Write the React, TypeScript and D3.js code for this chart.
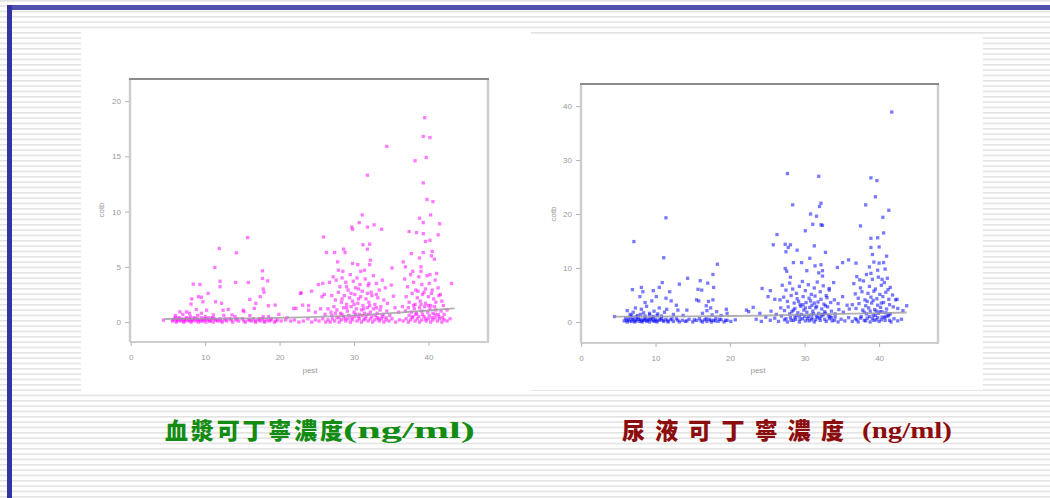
import { useEffect, useRef } from 'react'
import * as d3 from 'd3'

const W = 1050
const H = 498

const xTicks = [0, 10, 20, 30, 40]
const bloodTicksY = [0, 5, 10, 15, 20]
const urineTicksY = [0, 10, 20, 30, 40]
const xLabel = 'pest'
const yLabel = 'cotb'

const bloodTitle = ['血漿可丁寧濃度', '(ng/ml)']
const urineTitle = ['尿液可丁寧濃度', '(ng/ml)']

// plasma cotinine vs pest
const bloodPoints: [number, number][] = [
  [15.7, 7.65], [11.9, 6.66], [14.2, 6.27], [11.3, 4.94], [17.7, 4.64], [12.0, 3.7], [14.1, 3.59], [15.8, 3.59],
  [17.7, 3.95], [18.4, 3.73], [8.4, 3.44], [9.3, 3.4], [12.0, 3.2], [10.4, 2.6], [17.8, 3.0], [17.9, 2.7],
  [9.1, 2.3], [9.5, 2.25], [8.2, 2.1], [17.4, 2.3], [16.0, 2.05], [22.8, 2.6], [11.4, 1.84], [9.7, 1.84],
  [12.2, 1.7], [8.1, 1.63], [19.4, 1.54], [18.5, 1.48], [16.8, 1.7], [21.9, 1.24], [23.1, 1.54], [23.9, 1.08],
  [8.8, 1.15], [10.2, 1.08], [12.4, 1.08], [13.1, 1.15], [15.1, 1.08], [15.2, 0.95], [16.6, 1.24], [6.6, 0.93],
  [7.5, 0.93], [7.9, 0.8], [9.5, 0.8], [11.1, 0.65], [13.6, 0.65], [17.8, 0.5], [19.9, 0.7], [21.0, 0.4], [4.4, 0.18],
  [39.5, 18.5], [39.3, 16.8], [40.2, 16.7], [39.7, 14.9], [38.2, 14.6], [34.4, 15.9], [31.8, 13.3], [39.3, 12.6],
  [39.8, 11.1], [40.6, 10.9], [31.1, 9.7], [40.3, 9.7], [38.8, 9.4], [29.7, 8.6], [29.8, 8.4], [30.7, 9.0],
  [31.8, 8.6], [32.7, 8.8], [33.7, 8.4], [41.5, 8.9], [39.3, 9.0], [41.3, 7.9], [37.4, 8.2], [38.4, 8.1],
  [39.3, 8.0], [39.6, 7.3], [40.2, 7.4], [25.9, 7.7], [31.2, 7.0], [32.1, 7.05], [31.8, 6.6], [28.6, 6.6],
  [28.8, 6.3], [26.3, 6.3], [27.4, 6.3], [37.7, 6.2], [39.3, 6.3], [40.5, 6.4], [40.8, 5.7], [40.4, 6.0],
  [32.2, 5.6], [32.1, 5.2], [27.8, 5.45], [29.8, 5.3], [30.5, 5.2], [38.8, 5.8], [39.0, 5.0], [36.6, 5.45],
  [36.9, 5.0], [35.1, 4.9], [27.9, 4.7], [28.5, 4.6], [30.9, 4.6], [31.4, 4.7], [37.9, 4.6], [41.1, 4.4],
  [43.1, 3.5], [25.8, 3.5], [26.7, 3.6], [25.2, 3.4], [22.9, 2.65], [24.3, 2.8], [22.2, 1.24], [23.9, 1.5],
  [25.7, 2.3], [26.0, 2.5], [35.0, 3.35], [35.3, 2.35], [41.8, 1.9], [42.0, 1.5],
  [27.2, 4.1], [27.6, 3.8], [28.1, 3.2], [28.4, 4.0], [28.9, 3.6], [29.2, 2.9], [29.5, 4.3], [29.9, 3.7],
  [30.2, 3.1], [30.4, 4.0], [30.8, 3.4], [31.1, 2.8], [31.5, 3.9], [31.9, 3.3], [32.3, 2.7], [32.6, 4.2],
  [33.0, 3.5], [33.4, 2.9], [33.8, 3.8], [34.2, 3.1], [27.0, 2.4], [27.5, 2.0], [27.9, 2.7], [28.3, 1.8],
  [28.7, 2.4], [29.0, 1.6], [29.4, 2.2], [29.8, 1.9], [30.1, 2.5], [30.5, 1.7], [30.9, 2.3], [31.2, 1.5],
  [31.6, 2.1], [32.0, 1.8], [32.4, 2.4], [32.8, 1.6], [33.2, 2.2], [33.6, 1.4], [34.0, 2.0], [34.5, 1.7],
  [26.5, 1.2], [26.9, 0.9], [27.3, 1.4], [27.7, 1.1], [28.2, 0.8], [28.6, 1.3], [29.1, 1.0], [29.6, 1.4],
  [30.0, 0.9], [30.3, 1.2], [30.7, 0.7], [31.0, 1.1], [31.4, 0.8], [31.8, 1.3], [32.2, 0.9], [32.6, 1.2],
  [33.1, 0.8], [33.5, 1.1], [33.9, 0.7], [34.4, 1.0], [34.8, 0.6], [35.5, 1.3], [36.0, 0.9], [24.8, 0.9],
  [25.5, 1.2], [26.1, 0.7],
  [36.8, 3.9], [37.2, 3.2], [37.6, 4.3], [38.0, 3.6], [38.3, 2.9], [38.7, 4.1], [39.1, 3.4], [39.4, 2.7],
  [39.8, 4.2], [40.1, 3.5], [40.5, 2.9], [40.9, 3.8], [41.3, 3.1], [41.6, 2.5], [37.0, 2.3], [37.4, 1.8],
  [37.8, 2.6], [38.2, 1.6], [38.5, 2.2], [38.9, 1.9], [39.2, 2.5], [39.6, 1.7], [40.0, 2.3], [40.3, 1.5],
  [40.7, 2.1], [41.0, 1.8], [41.4, 2.4], [36.5, 1.4], [36.9, 1.0], [37.3, 1.3], [37.7, 0.9], [38.1, 1.2],
  [38.4, 0.8], [38.8, 1.3], [39.1, 1.0], [39.5, 1.4], [39.9, 0.9], [40.2, 1.2], [40.6, 0.8], [41.0, 1.1],
  [41.3, 0.7], [41.7, 1.0], [42.1, 0.7], [42.5, 1.1],
  [5.6, 0.1], [5.9, 0.3], [6.1, 0], [6.3, 0.2], [6.5, 0.4], [6.7, 0.1], [6.9, 0.3], [7.1, 0], [7.3, 0.2],
  [7.5, 0.4], [7.7, 0.1], [7.9, 0.3], [8.1, 0], [8.3, 0.2], [8.5, 0.4], [8.7, 0.1], [8.9, 0.3], [9.1, 0],
  [9.3, 0.2], [9.5, 0.4], [9.7, 0.1], [9.9, 0.3], [10.1, 0], [10.3, 0.2], [10.5, 0.4], [10.7, 0.1], [10.9, 0.3],
  [11.1, 0], [11.4, 0.2], [11.7, 0.1], [12.0, 0.3], [12.3, 0], [12.6, 0.2], [12.9, 0.1], [13.3, 0.3], [13.7, 0],
  [14.1, 0.2], [14.5, 0.1], [15.0, 0.3], [15.4, 0], [15.8, 0.2], [16.2, 0.1], [16.5, 0.3], [16.8, 0], [17.1, 0.2],
  [17.4, 0.1], [17.7, 0.3], [18.0, 0], [18.3, 0.2], [18.6, 0.1], [18.9, 0.3], [19.3, 0], [19.7, 0.2], [20.2, 0.1],
  [20.8, 0.2], [6.0, 0.6], [7.0, 0.7], [8.0, 0.5], [9.0, 0.6], [10.0, 0.5], [11.0, 0.4], [12.5, 0.6], [14.0, 0.5],
  [16.0, 0.6], [18.5, 0.5],
  [21.5, 0.1], [22.0, 0.2], [22.6, 0], [23.2, 0.1], [23.8, 0.3], [24.3, 0], [24.8, 0.2], [25.3, 0.1], [25.8, 0.3],
  [26.2, 0], [26.5, 0.2], [26.8, 0], [27.1, 0.3], [27.4, 0.1], [27.7, 0.4], [28.0, 0], [28.3, 0.2], [28.6, 0.5],
  [28.9, 0.1], [29.2, 0.3], [29.5, 0], [29.8, 0.2], [30.1, 0.5], [30.4, 0.1], [30.7, 0.3], [31.0, 0], [31.3, 0.2],
  [31.6, 0.5], [31.9, 0.1], [32.2, 0.3], [32.5, 0], [32.8, 0.2], [33.1, 0.4], [33.4, 0.1], [33.7, 0.3], [34.0, 0],
  [34.3, 0.2], [34.7, 0.1], [35.1, 0.3], [35.6, 0], [36.1, 0.2], [36.6, 0.1],
  [37.0, 0.3], [37.3, 0], [37.6, 0.2], [37.9, 0.5], [38.2, 0.1], [38.5, 0.3], [38.8, 0], [39.1, 0.2], [39.4, 0.5],
  [39.7, 0.1], [40.0, 0.3], [40.3, 0], [40.6, 0.2], [40.9, 0.4], [41.2, 0.1], [41.5, 0.3], [41.8, 0], [42.1, 0.2],
  [42.5, 0.1], [42.9, 0.3],
  [5.7, 0.2], [6.0, 0.4], [6.2, 0.1], [6.4, 0.3], [6.8, 0.2], [7.2, 0.1], [7.4, 0.3], [7.8, 0.2], [8.2, 0.1],
  [8.6, 0.3], [9.0, 0.2], [9.4, 0.1], [9.8, 0.2], [10.2, 0.3], [10.6, 0.1], [11.2, 0.3], [11.6, 0.2], [12.1, 0.1],
  [12.8, 0.3], [13.5, 0.2], [14.3, 0.3], [15.2, 0.1], [16.0, 0.2], [16.7, 0.1], [17.3, 0.3], [17.9, 0.1], [18.8, 0.2],
  [19.5, 0.1],
  [27.0, 0.6], [27.5, 0.8], [28.0, 0.4], [28.4, 0.7], [28.8, 0.3], [29.3, 0.6], [29.7, 0.4], [30.2, 0.7], [30.6, 0.5],
  [31.1, 0.6], [31.5, 0.3], [31.9, 0.7], [32.4, 0.5], [32.9, 0.6], [33.3, 0.3], [33.8, 0.5], [34.3, 0.4], [29.0, 1.3],
  [30.0, 1.6], [31.3, 1.2], [32.1, 1.5], [33.0, 1.3], [28.4, 2.1], [29.6, 2.6], [30.6, 2.1], [31.8, 2.6], [33.0, 2.5],
  [29.0, 3.2], [30.6, 3.0], [32.0, 3.5],
  [37.4, 0.6], [37.8, 0.4], [38.3, 0.7], [38.7, 0.5], [39.2, 0.7], [39.6, 0.3], [40.1, 0.6], [40.5, 0.4], [40.9, 0.7],
  [41.4, 0.5], [41.9, 0.4], [38.0, 1.5], [39.0, 1.6], [40.0, 1.5], [40.8, 1.4], [38.6, 2.8], [39.6, 3.0], [40.4, 2.6],
  [39.0, 4.6], [40.2, 4.3],
]

const bloodTrend: [number, number][] = [
  [4.5, 0.28], [8, 0.3], [12, 0.32], [16, 0.34], [20, 0.38], [24, 0.45], [28, 0.55], [32, 0.68], [36, 0.85],
  [40, 1.05], [43.5, 1.25],
]

// urine cotinine vs pest
const urinePoints: [number, number][] = [
  [7.1, 14.9], [11.1, 11.9], [11.4, 19.3], [18.3, 10.7], [17.7, 8.8], [14.3, 8.1], [13.2, 7.0], [16.0, 7.65],
  [17.0, 7.2], [17.8, 6.4], [10.9, 7.3], [10.5, 6.4], [6.9, 6.0], [8.1, 6.4], [9.7, 5.8], [10.1, 4.7],
  [11.9, 5.6], [15.7, 6.05], [16.2, 5.9], [8.3, 5.6], [7.9, 4.7], [8.6, 3.6], [9.5, 3.9], [11.4, 4.4],
  [12.1, 3.9], [12.8, 3.1], [15.5, 4.1], [15.8, 3.9], [17.1, 3.8], [17.7, 4.1], [16.8, 3.0], [17.4, 2.6],
  [19.5, 2.35], [8.1, 2.35], [10.5, 2.6], [11.5, 2.35], [14.2, 2.2], [7.0, 1.8], [4.5, 1.0], [22.5, 1.9],
  [6.2, 2.1], [6.6, 1.4], [7.3, 2.6], [7.6, 1.2], [8.4, 1.7], [8.8, 2.9], [9.2, 1.3], [9.8, 2.0], [10.3, 1.5],
  [10.8, 1.1], [11.2, 1.8], [12.4, 1.4], [13.0, 2.2], [13.7, 1.2], [16.3, 1.6], [16.9, 2.1], [17.6, 1.3],
  [18.2, 1.9], [18.8, 1.2], [19.6, 1.6],
  [5.8, 0.2], [6.0, 0.7], [6.2, 0], [6.4, 0.5], [6.6, 0.9], [6.8, 0.1], [7.0, 0.6], [7.2, 0], [7.4, 0.4],
  [7.6, 0.8], [7.8, 0.1], [8.0, 0.5], [8.2, 0], [8.4, 0.3], [8.6, 0.7], [8.8, 0.1], [9.0, 0.5], [9.2, 0],
  [9.4, 0.4], [9.6, 0.8], [9.8, 0.1], [10.0, 0.5], [10.2, 0], [10.5, 0.3], [10.8, 0.7], [11.1, 0.1], [11.4, 0.5],
  [11.7, 0], [12.0, 0.4], [12.4, 0.1], [12.8, 0.6], [13.2, 0], [13.6, 0.3], [14.0, 0.1], [14.5, 0.5], [15.0, 0],
  [15.5, 0.3], [15.9, 0.6], [16.3, 0], [16.6, 0.4], [16.9, 0.1], [17.2, 0.5], [17.5, 0], [17.8, 0.3], [18.1, 0.7],
  [18.4, 0.1], [18.8, 0.4], [19.2, 0], [19.6, 0.3], [20.1, 0.1], [20.7, 0.4],
  [41.7, 38.9], [27.7, 27.5], [31.9, 27.0], [38.9, 26.7], [39.7, 26.2], [39.5, 23.2], [28.4, 21.7], [32.2, 22.0],
  [32.0, 21.4], [38.2, 21.7], [41.3, 20.7], [30.8, 20.0], [31.6, 19.6], [40.5, 19.4], [31.1, 18.1], [32.2, 18.0],
  [32.4, 17.9], [37.5, 17.8], [30.1, 16.9], [40.6, 16.5], [26.3, 16.2], [38.9, 15.5], [39.8, 15.6], [25.8, 14.3],
  [27.4, 14.4], [28.1, 14.3], [27.8, 13.8], [31.3, 14.1], [38.9, 13.8], [40.0, 13.9], [27.5, 13.0], [29.0, 13.3],
  [32.8, 12.9], [39.1, 12.5], [41.0, 12.2], [30.7, 11.8], [28.5, 11.0], [29.6, 11.0], [31.4, 10.4], [32.2, 10.6],
  [35.9, 11.5], [36.9, 10.9], [35.1, 11.0], [34.4, 10.1], [39.3, 11.1], [40.0, 10.9], [40.6, 11.0], [38.7, 10.2],
  [27.4, 9.9], [27.6, 9.4], [28.1, 8.3], [30.3, 9.5], [31.9, 9.1], [32.4, 9.5], [32.4, 8.5], [39.8, 9.6],
  [40.8, 9.8], [38.9, 9.0], [40.4, 7.9], [37.4, 7.8], [24.3, 6.2], [25.4, 5.8], [25.1, 4.7], [26.0, 4.2],
  [35.1, 4.7], [33.9, 7.3], [33.3, 5.9], [41.2, 6.0], [42.4, 4.2], [42.2, 4.1], [43.2, 2.1], [43.7, 3.0],
  [35.7, 3.1], [23.1, 2.7], [22.2, 2.2], [24.0, 1.6], [26.7, 4.1],
  [27.0, 6.8], [27.5, 5.9], [28.0, 7.2], [28.4, 6.1], [28.9, 5.3], [29.3, 6.6], [29.7, 7.5], [30.1, 5.8],
  [30.5, 6.9], [30.9, 5.1], [31.3, 6.3], [31.7, 7.4], [32.1, 5.6], [32.5, 6.7], [32.9, 4.9], [33.3, 6.2],
  [27.2, 4.6], [27.7, 3.8], [28.2, 4.9], [28.6, 3.5], [29.0, 4.3], [29.4, 3.2], [29.8, 4.7], [30.2, 3.6],
  [30.6, 4.4], [31.0, 3.1], [31.4, 4.8], [31.8, 3.7], [32.2, 4.2], [32.6, 3.3], [33.0, 4.5], [33.5, 3.6],
  [34.0, 4.1], [34.5, 3.4], [26.8, 2.6], [27.3, 2.1], [27.8, 2.8], [28.3, 1.9], [28.7, 2.5], [29.1, 1.7],
  [29.5, 2.9], [29.9, 2.2], [30.3, 1.8], [30.7, 2.7], [31.1, 2.0], [31.5, 2.6], [31.9, 1.6], [32.3, 2.4],
  [32.7, 1.9], [33.1, 2.8], [33.6, 2.0], [34.1, 1.5], [34.6, 2.3], [35.2, 1.8], [36.0, 2.4], [25.5, 2.0], [26.2, 1.4],
  [36.6, 7.1], [37.0, 8.4], [37.5, 6.3], [37.9, 7.6], [38.3, 8.8], [38.7, 6.6], [39.1, 7.9], [39.5, 6.1],
  [39.9, 8.3], [40.3, 6.8], [40.7, 7.3], [41.1, 8.1], [41.5, 6.4], [36.8, 5.2], [37.2, 4.4], [37.7, 5.6],
  [38.1, 4.1], [38.5, 5.3], [38.9, 4.6], [39.3, 5.7], [39.7, 4.3], [40.1, 5.1], [40.5, 4.7], [40.9, 5.5],
  [41.3, 4.2], [41.8, 5.0], [36.4, 3.2], [36.9, 2.5], [37.3, 3.4], [37.8, 2.2], [38.2, 3.0], [38.6, 2.6],
  [39.0, 3.5], [39.4, 2.3], [39.8, 3.1], [40.2, 2.7], [40.6, 3.6], [41.0, 2.4], [41.4, 3.2], [41.9, 2.8], [42.5, 2.5],
  [23.5, 0.5], [24.2, 0.1], [24.8, 0.9], [25.4, 0.3], [26.0, 0.7], [26.5, 0.1], [26.9, 1.1], [27.3, 0.4],
  [27.7, 0], [28.1, 0.8], [28.5, 0.3], [28.9, 1.2], [29.3, 0], [29.7, 0.6], [30.1, 0.2], [30.5, 1.0], [30.9, 0.4],
  [31.3, 0], [31.7, 0.9], [32.1, 0.3], [32.5, 1.3], [32.9, 0.1], [33.3, 0.6], [33.7, 0.2], [34.1, 0.9], [34.5, 0],
  [34.9, 0.5], [35.4, 0.2], [35.9, 0.8], [36.4, 0.1], [36.8, 0.6], [37.2, 0], [37.6, 1.0], [38.0, 0.3], [38.4, 0.7],
  [38.8, 0], [39.2, 1.2], [39.6, 0.4], [40.0, 0.1], [40.4, 0.9], [40.8, 0.3], [41.2, 1.1], [41.6, 0], [42.0, 0.6],
  [42.5, 0.2], [43.0, 0.5],
  [28.0, 1.5], [28.8, 0.5], [29.6, 1.4], [30.4, 0.6], [31.2, 1.5], [32.0, 0.7], [32.8, 1.6], [33.6, 0.8],
  [38.3, 1.5], [39.1, 0.6], [39.9, 1.6], [40.7, 0.8], [41.5, 1.5], [29.2, 3.8], [30.8, 3.9], [31.6, 2.9],
  [39.6, 2.0], [40.4, 1.9],
  [6.1, 0.3], [6.5, 0.2], [6.9, 0.4], [7.3, 0.2], [7.7, 0.5], [8.1, 0.2], [8.5, 0.4], [8.9, 0.3], [9.3, 0.6],
  [9.7, 0.3], [10.1, 0.2], [10.6, 0.5], [11.0, 0.3], [11.6, 0.2], [12.2, 0.6], [13.0, 0.3], [14.2, 0.2], [15.2, 0.4],
  [16.1, 0.2], [16.8, 0.6], [17.4, 0.3], [18.0, 0.2], [18.6, 0.5], [19.4, 0.3],
  [6.8, 1.2], [7.4, 1.0], [8.0, 1.4], [8.6, 1.1], [9.2, 1.6], [9.7, 1.0], [10.2, 1.2],
  [27.5, 0.6], [28.2, 0.3], [28.7, 0.9], [29.4, 0.5], [30.0, 1.0], [30.6, 0.2], [31.0, 0.7], [31.5, 0.4], [32.2, 1.0],
  [32.7, 0.5], [33.4, 1.0], [34.0, 0.3], [28.5, 2.2], [29.3, 1.1], [30.1, 2.6], [30.9, 1.3], [31.6, 1.1], [32.4, 1.4],
  [33.2, 1.2], [29.8, 3.2], [31.3, 3.5], [32.8, 3.0],
  [37.0, 0.4], [37.5, 0.7], [38.2, 0.2], [38.7, 1.0], [39.3, 0.3], [39.8, 0.8], [40.3, 0.4], [40.9, 1.0], [41.4, 0.3],
  [38.0, 1.8], [38.8, 2.0], [39.5, 1.2], [40.1, 1.9], [40.9, 1.7], [41.3, 1.3], [39.2, 4.0], [40.3, 3.5], [38.4, 3.8],
]

const urineTrend: [number, number][] = [
  [4.5, 1.0], [10, 1.0], [15, 1.05], [20, 1.1], [25, 1.2], [30, 1.35], [35, 1.5], [40, 1.65], [43.7, 1.75],
]

type Plot = {
  points: [number, number][]
  trend: [number, number][]
  yTicks: number[]
  xDomain: [number, number]
  yDomain: [number, number]
  box: { left: number; right: number; top: number; bottom: number }
  color: string
  yLabelPos: [number, number]
  xLabelPos: [number, number]
}

const plots: Plot[] = [
  {
    points: bloodPoints,
    trend: bloodTrend,
    yTicks: bloodTicksY,
    xDomain: [-0.1, 48],
    yDomain: [-1.8, 22],
    box: { left: 130, right: 488, top: 79, bottom: 342 },
    color: '#ff00ff',
    yLabelPos: [104, 210],
    xLabelPos: [310, 373],
  },
  {
    points: urinePoints,
    trend: urineTrend,
    yTicks: urineTicksY,
    xDomain: [0, 47.9],
    yDomain: [-3.9, 44.1],
    box: { left: 581, right: 938, top: 84, bottom: 343 },
    color: '#0000ff',
    yLabelPos: [556, 214],
    xLabelPos: [758, 373],
  },
]

const FONT = 'Liberation Sans, Arial, sans-serif'
const PT = 3.3

export default function App() {
  const svgRef = useRef<SVGSVGElement>(null)

  useEffect(() => {
    if (!svgRef.current) return
    const svg = d3.select(svgRef.current)
    svg.selectAll('*').remove()

    // slide background: white with thin grey horizontal rules
    const defs = svg.append('defs')
    defs.append('pattern')
      .attr('id', 'rules')
      .attr('width', 8)
      .attr('height', 5.333)
      .attr('patternUnits', 'userSpaceOnUse')
      .append('rect')
      .attr('y', 0)
      .attr('width', 8)
      .attr('height', 1.6)
      .attr('fill', '#e3e3e3')

    svg.append('rect').attr('width', W).attr('height', H).attr('fill', '#fff')
    svg.append('rect').attr('width', W).attr('height', H).attr('fill', 'url(#rules)')

    // the two pasted pictures
    svg.append('rect').attr('x', 81).attr('y', 30).attr('width', 450).attr('height', 363).attr('fill', '#fff')
    svg.append('rect').attr('x', 531).attr('y', 35).attr('width', 452).attr('height', 355).attr('fill', '#fff')

    // blue slide frame
    svg.append('rect').attr('x', 7).attr('y', 5).attr('width', W - 7).attr('height', 5).attr('fill', '#5050ae')
    svg.append('rect').attr('x', 7).attr('y', 5).attr('width', 5).attr('height', H - 5).attr('fill', '#3434a0')

    plots.forEach((p) => {
      const x = d3.scaleLinear().domain(p.xDomain).range([p.box.left, p.box.right])
      const y = d3.scaleLinear().domain(p.yDomain).range([p.box.bottom, p.box.top])
      const g = svg.append('g')

      g.append('g')
        .selectAll('rect')
        .data(p.points)
        .join('rect')
        .attr('x', (d) => x(d[0]) - PT / 2)
        .attr('y', (d) => y(d[1]) - PT / 2)
        .attr('width', PT)
        .attr('height', PT)
        .attr('fill', p.color)
        .attr('fill-opacity', 0.52)

      const line = d3.line<[number, number]>()
        .x((d) => x(d[0]))
        .y((d) => y(d[1]))
        .curve(d3.curveMonotoneX)

      g.append('path')
        .datum(p.trend)
        .attr('d', line)
        .attr('fill', 'none')
        .attr('stroke', '#9c9c9c')
        .attr('stroke-width', 1.8)
        .attr('stroke-opacity', 0.8)

      // frame: dark top edge, pale others
      const b = p.box
      g.append('line').attr('x1', b.left).attr('x2', b.left).attr('y1', b.top).attr('y2', b.bottom)
        .attr('stroke', '#cdcdcd').attr('stroke-width', 2.5)
      g.append('line').attr('x1', b.right).attr('x2', b.right).attr('y1', b.top).attr('y2', b.bottom)
        .attr('stroke', '#cdcdcd').attr('stroke-width', 2.5)
      g.append('line').attr('x1', b.left).attr('x2', b.right + 1).attr('y1', b.bottom).attr('y2', b.bottom)
        .attr('stroke', '#cdcdcd').attr('stroke-width', 2)
      g.append('line').attr('x1', b.left - 1).attr('x2', b.right + 1).attr('y1', b.top).attr('y2', b.top)
        .attr('stroke', '#8a8a8a').attr('stroke-width', 2)

      const xAxis = g.append('g')
        .attr('transform', `translate(0,${b.bottom})`)
        .call(d3.axisBottom(x).tickValues(xTicks).tickSize(4).tickPadding(8))
      const yAxis = g.append('g')
        .attr('transform', `translate(${b.left - 1},0)`)
        .call(d3.axisLeft(y).tickValues(p.yTicks).tickSize(4).tickPadding(4))

      ;[xAxis, yAxis].forEach((a) => {
        a.select('.domain').remove()
        a.attr('font-family', FONT).attr('font-size', 8)
        a.selectAll('line').attr('stroke', '#b4b4b4')
        a.selectAll('text').attr('fill', '#9a9a9a')
      })

      g.append('text')
        .attr('x', p.xLabelPos[0])
        .attr('y', p.xLabelPos[1])
        .attr('text-anchor', 'middle')
        .attr('font-family', FONT)
        .attr('font-size', 8)
        .attr('fill', '#9a9a9a')
        .text(xLabel)

      g.append('text')
        .attr('transform', `translate(${p.yLabelPos[0]},${p.yLabelPos[1]}) rotate(-90)`)
        .attr('text-anchor', 'middle')
        .attr('font-family', FONT)
        .attr('font-size', 8)
        .attr('fill', '#9a9a9a')
        .text(yLabel)
    })

    // captions under the pictures
    const captions = [
      { text: bloodTitle, color: '#138c13', x: 165, cjkLen: 178, unitX: 343, unitLen: 132 },
      { text: urineTitle, color: '#8c0d0d', x: 622, cjkLen: 222, unitX: 862, unitLen: 90 },
    ]
    captions.forEach((c) => {
      svg.append('text')
        .attr('x', c.x)
        .attr('y', 439)
        .attr('font-family', 'Noto Sans CJK TC, Noto Sans CJK SC, sans-serif')
        .attr('font-weight', 900)
        .attr('font-size', 23)
        .attr('fill', c.color)
        .attr('textLength', c.cjkLen)
        .attr('lengthAdjust', 'spacing')
        .text(c.text[0])
      svg.append('text')
        .attr('x', c.unitX)
        .attr('y', 438)
        .attr('font-family', 'Liberation Serif, serif')
        .attr('font-weight', 700)
        .attr('font-size', 23)
        .attr('fill', c.color)
        .attr('textLength', c.unitLen)
        .attr('lengthAdjust', 'spacingAndGlyphs')
        .text(c.text[1])
    })
  }, [])

  return (
    <svg
      ref={svgRef}
      width={W}
      height={H}
      style={{ position: 'absolute', left: 0, top: 0, display: 'block' }}
    />
  )
}
